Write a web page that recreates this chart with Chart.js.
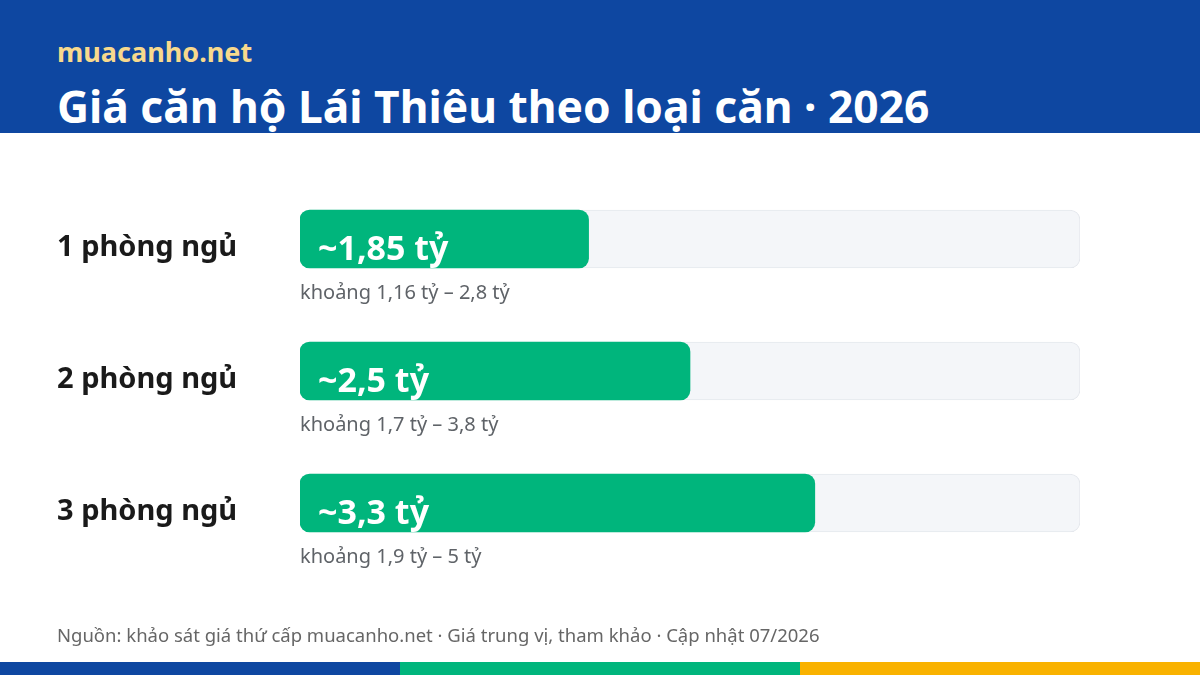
<!DOCTYPE html>
<html>
<head>
<meta charset="utf-8">
<script src="https://cdn.jsdelivr.net/npm/chart.js@4"></script>
<style>
  html, body { margin: 0; padding: 0; width: 1200px; height: 675px; overflow: hidden; background: #fff; font-family: "Noto Sans", sans-serif; }
  .head { position: absolute; left: 0; top: 0; width: 1200px; height: 133px; background: #0e47a1; }
  .brand { position: absolute; left: 57px; top: 34px; font-size: 27px; font-weight: 700; color: #f7d98d; line-height: 36px; }
  .title { position: absolute; left: 57px; top: 78px; font-size: 44.3px; font-weight: 700; color: #fff; line-height: 56px; }
  .note { position: absolute; left: 57px; top: 622px; font-size: 18.5px; color: #666; line-height: 26px; }
  .stripe { position: absolute; top: 662px; height: 13px; width: 400px; }
  #wrap { position: absolute; left: 0; top: 133px; width: 1200px; height: 529px; }
</style>
</head>
<body>
<div class="head">
  <div class="brand">muacanho.net</div>
  <div class="title">Giá căn hộ Lái Thiêu theo loại căn · 2026</div>
</div>
<div id="wrap"><canvas id="bieuDo"></canvas></div>
<div class="note">Nguồn: khảo sát giá thứ cấp muacanho.net · Giá trung vị, tham khảo · Cập nhật 07/2026</div>
<div class="stripe" style="left:0;background:#0e47a1"></div>
<div class="stripe" style="left:400px;background:#00b57c"></div>
<div class="stripe" style="left:800px;background:#f9b200"></div>
<script>
var loaiCan = ["1 phòng ngủ", "2 phòng ngủ", "3 phòng ngủ"];
var giaTrungVi = [1.85, 2.5, 3.3];
var nhanGia = ["~1,85 tỷ", "~2,5 tỷ", "~3,3 tỷ"];
var khoangGia = ["khoảng 1,16 tỷ – 2,8 tỷ", "khoảng 1,7 tỷ – 3,8 tỷ", "khoảng 1,9 tỷ – 5 tỷ"];
var giaToiDa = 5;

var nen = loaiCan.map(function () { return giaToiDa; });

// chữ trên cột và khoảng giá bên dưới
var chuThich = {
    id: 'chuThich',
    afterDatasetsDraw: function (chart) {
        var ctx = chart.ctx;
        var meta = chart.getDatasetMeta(1);
        ctx.save();
        meta.data.forEach(function (bar, i) {
            var bottom = bar.y + bar.height / 2;
            ctx.fillStyle = '#ffffff';
            ctx.font = 'bold 34px "Noto Sans"';
            ctx.textAlign = 'left';
            ctx.textBaseline = 'middle';
            ctx.fillText(nhanGia[i], bar.base + 18, bar.y + 11);
            ctx.fillStyle = '#5f6368';
            ctx.font = '20px "Noto Sans"';
            ctx.fillText(khoangGia[i], bar.base, bottom + 25);
        });
        ctx.restore();
    }
};

var ctx = document.getElementById("bieuDo").getContext("2d");
var bieuDo = new Chart(ctx, {
    type: 'bar',
    data: {
        labels: loaiCan,
        datasets: [{
            data: nen,
            backgroundColor: '#f4f6f9',
            borderColor: '#e5e8ed',
            borderWidth: 1,
            borderRadius: 10,
            borderSkipped: false,
            barThickness: 58,
            order: 2
        }, {
            data: giaTrungVi,
            backgroundColor: '#00b57c',
            borderWidth: 0,
            borderRadius: 10,
            borderSkipped: false,
            barThickness: 58,
            order: 1
        }]
    },
    options: {
        indexAxis: 'y',
        responsive: true,
        maintainAspectRatio: false,
        animation: false,
        grouped: false,
        layout: { padding: { left: 57, right: 120, top: 40, bottom: 93 } },
        scales: {
            x: {
                display: false,
                min: 0,
                max: giaToiDa
            },
            y: {
                grid: { display: false },
                border: { display: false },
                afterFit: function (scale) { scale.width = 243; },
                ticks: {
                    crossAlign: 'far',
                    labelOffset: 9,
                    color: '#1a1a1a',
                    font: { family: 'Noto Sans', size: 29, weight: 'bold' }
                }
            }
        },
        plugins: {
            legend: { display: false },
            tooltip: { enabled: false }
        }
    },
    plugins: [chuThich]
});
</script>
</body>
</html>
